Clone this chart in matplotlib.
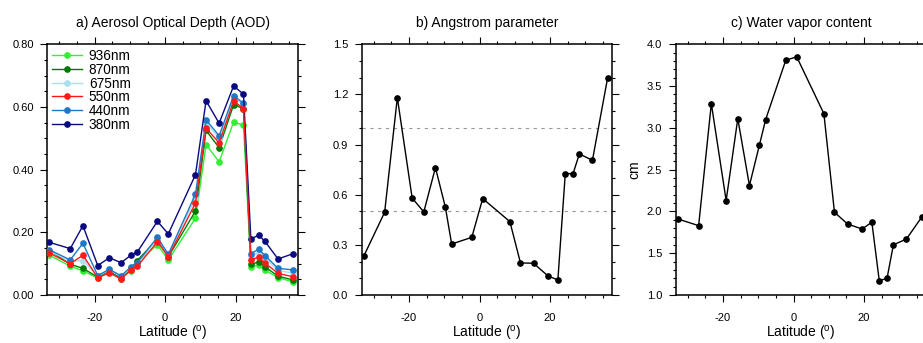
import matplotlib
matplotlib.use("Agg")
import matplotlib.pyplot as plt
from matplotlib.ticker import MultipleLocator, FormatStrFormatter

plt.rcParams['font.family'] = ['Liberation Sans', 'DejaVu Sans']
plt.rcParams['axes.unicode_minus'] = False

# latitude of each station (deg)
lat = [-32.8, -26.9, -23.3, -19.1, -15.8, -12.5, -9.7, -7.9, -2.2, 0.9,
       8.6, 11.6, 15.3, 19.4, 22.2, 24.3, 26.5, 28.3, 32.0, 36.3]

# AOD per wavelength
aod_936 = [0.127, 0.092, 0.077, 0.054, 0.073, 0.052, 0.078, 0.105, 0.160, 0.112,
           0.245, 0.480, 0.425, 0.552, 0.542, 0.090, 0.095, 0.080, 0.055, 0.042]
aod_870 = [0.142, 0.098, 0.085, 0.057, 0.078, 0.053, 0.085, 0.110, 0.178, 0.122,
           0.268, 0.525, 0.470, 0.607, 0.595, 0.098, 0.105, 0.090, 0.060, 0.048]
aod_675 = [0.140, 0.108, 0.110, 0.060, 0.080, 0.058, 0.087, 0.100, 0.180, 0.128,
           0.310, 0.550, 0.500, 0.630, 0.608, 0.125, 0.135, 0.118, 0.078, 0.070]
aod_550 = [0.134, 0.100, 0.127, 0.055, 0.071, 0.051, 0.080, 0.091, 0.170, 0.122,
           0.294, 0.532, 0.486, 0.619, 0.595, 0.112, 0.121, 0.102, 0.069, 0.058]
aod_440 = [0.144, 0.112, 0.165, 0.062, 0.082, 0.061, 0.090, 0.103, 0.184, 0.130,
           0.322, 0.559, 0.508, 0.636, 0.612, 0.132, 0.146, 0.126, 0.085, 0.080]
aod_380 = [0.168, 0.148, 0.221, 0.094, 0.119, 0.103, 0.127, 0.137, 0.235, 0.195,
           0.384, 0.620, 0.548, 0.667, 0.641, 0.179, 0.191, 0.171, 0.115, 0.132]

wl_labels = ['936nm', '870nm', '675nm', '550nm', '440nm', '380nm']
wl_colors = ['#33ee33', '#007a00', '#a8e0ee', '#ff1a1a', '#1e78c8', '#0a0a80']
wl_z = [2, 3, 4, 7, 5, 6]

angstrom = [0.233, 0.495, 1.181, 0.580, 0.497, 0.762, 0.527, 0.305, 0.345, 0.577,
            0.439, 0.192, 0.190, 0.114, 0.090, 0.726, 0.726, 0.844, 0.806, 1.299]

water = [1.91, 1.83, 3.29, 2.13, 3.11, 2.31, 2.79, 3.10, 3.81, 3.85,
         3.17, 1.99, 1.85, 1.79, 1.87, 1.17, 1.20, 1.60, 1.67, 1.93]

W, H = 923, 343
fig = plt.figure(figsize=(W / 100, H / 100), dpi=100)

ax_w, ax_h = 250.5, 250.7
lefts = [47.3, 361.7, 675.7]
bottom = H - 295.0
axes = [fig.add_axes([l / W, bottom / H, ax_w / W, ax_h / H]) for l in lefts]

titles = ['a) Aerosol Optical Depth (AOD)', 'b) Angstrom parameter', 'c) Water vapor content']

for ax, t in zip(axes, titles):
    ax.set_xlim(-33.4, 37.6)
    ax.xaxis.set_major_locator(MultipleLocator(20))
    ax.xaxis.set_minor_locator(MultipleLocator(5))
    ax.tick_params(which='both', direction='out', top=True, right=True,
                   labelsize=8, width=0.8, pad=4.5)
    ax.tick_params(axis='x', which='both', pad=7.5)
    ax.tick_params(which='major', length=5.2)
    ax.tick_params(which='minor', length=2.4)
    for s in ax.spines.values():
        s.set_linewidth(1.1)
    ax.set_xlabel('Latitude ($^\\mathregular{o}$)', fontsize=10, labelpad=1.0)
    ax.text(0.5, 1.0 + 17.5 / ax_h, t, transform=ax.transAxes, ha='center',
            va='baseline', fontsize=10)

# a) AOD
ax = axes[0]
series = [aod_936, aod_870, aod_675, aod_550, aod_440, aod_380]
for vals, lab, c, z in zip(series, wl_labels, wl_colors, wl_z):
    ax.plot(lat, vals, '-o', color=c, lw=1.0, ms=3.8, label=lab, zorder=z)
ax.set_ylim(0, 0.8)
ax.yaxis.set_major_locator(MultipleLocator(0.2))
ax.yaxis.set_minor_locator(MultipleLocator(0.05))
ax.yaxis.set_major_formatter(FormatStrFormatter('%.2f'))
ax.legend(loc='upper left', frameon=False, fontsize=9.8, handlelength=2.2,
          handletextpad=0.5, labelspacing=-0.02, borderpad=0, borderaxespad=0.35)

# b) Angstrom
ax = axes[1]
ax.plot(lat, angstrom, '-o', color='black', lw=1.0, ms=3.8)
for yv in (0.5, 1.0):
    ax.axhline(yv, color='#999999', lw=0.8, ls=(0, (3, 4)), zorder=0)
ax.set_ylim(0, 1.5)
ax.yaxis.set_major_locator(MultipleLocator(0.3))
ax.yaxis.set_minor_locator(MultipleLocator(0.1))
ax.yaxis.set_major_formatter(FormatStrFormatter('%.1f'))

# c) Water vapor
ax = axes[2]
ax.plot(lat, water, '-o', color='black', lw=1.0, ms=3.8)
ax.set_ylim(1.0, 4.0)
ax.yaxis.set_major_locator(MultipleLocator(0.5))
ax.yaxis.set_minor_locator(MultipleLocator(0.1))
ax.yaxis.set_major_formatter(FormatStrFormatter('%.1f'))
ax.set_ylabel('cm', fontsize=10, labelpad=4)

fig.savefig('out.png', dpi=100)
